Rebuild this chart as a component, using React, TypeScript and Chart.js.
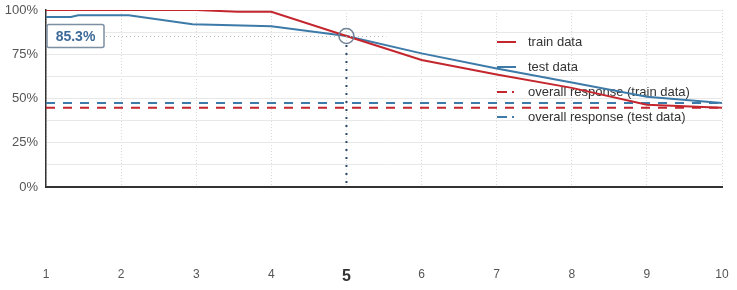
import React, { useEffect, useRef } from 'react';
import { Chart, registerables } from 'chart.js';

Chart.register(...registerables);

// ---- data ----
const X_TICKS = [1, 2, 3, 4, 5, 6, 7, 8, 9, 10];
const TRAIN_X = [1, 3, 3.55, 4, 5, 6, 7, 8, 9, 10];
const TRAIN_VALUES = [100, 100, 99, 99, 85.3, 71.8, 63.5, 56, 46.5, 44.8];
const TEST_X = [1, 1.33, 1.43, 2.1, 2.95, 4, 5, 6, 7, 8, 9, 10];
const TEST_VALUES = [96, 96, 97, 97, 92, 90.8, 85.3, 75.5, 67, 59, 51, 47.4];
const OVERALL_TRAIN = 44.8;
const OVERALL_TEST = 47.4;
const Y_TICKS = [0, 25, 50, 75, 100];
const HIGHLIGHT_X = 5;
const HIGHLIGHT_Y = 85.3;
const LEGEND_LABELS = ['train data', 'test data', 'overall response (train data)', 'overall response (test data)'];

const RED = '#c4262e';
const BLUE = '#3d7aa8';
const FONT = '"Liberation Sans", Arial, sans-serif';

const overlayPlugin = {
  id: 'overlay',
  beforeDatasetsDraw(chart: any) {
    const { ctx } = chart;
    ctx.save();
    const startX = 497;
    const startY = 42;
    const gap = 25;
    const colors = [RED, BLUE, RED, BLUE];
    LEGEND_LABELS.forEach((label, i) => {
      const y = startY + i * gap;
      ctx.strokeStyle = colors[i];
      ctx.fillStyle = colors[i];
      ctx.lineWidth = 2;
      ctx.setLineDash([]);
      ctx.beginPath();
      if (i < 2) {
        ctx.moveTo(startX, y);
        ctx.lineTo(startX + 19, y);
        ctx.stroke();
      } else {
        ctx.moveTo(startX, y);
        ctx.lineTo(startX + 10, y);
        ctx.stroke();
        ctx.fillRect(startX + 15, y - 1, 2, 2);
      }
      ctx.fillStyle = '#333';
      ctx.font = `13px ${FONT}`;
      ctx.textBaseline = 'middle';
      ctx.textAlign = 'left';
      ctx.fillText(label, 528, y);
    });
    ctx.restore();
  },
  afterDatasetsDraw(chart: any) {
    const { ctx, chartArea } = chart;
    const xs = chart.scales.x;
    const ys = chart.scales.y;
    const px = xs.getPixelForValue(HIGHLIGHT_X);
    const py = ys.getPixelForValue(HIGHLIGHT_Y);
    ctx.save();
    // vertical dotted
    ctx.strokeStyle = '#2d4a6e';
    ctx.lineWidth = 2;
    ctx.setLineDash([2, 6]);
    ctx.beginPath();
    ctx.moveTo(px, py + 9);
    ctx.lineTo(px, chartArea.bottom);
    ctx.stroke();
    // horizontal dotted
    ctx.strokeStyle = '#aab7c6';
    ctx.lineWidth = 1;
    ctx.setLineDash([1, 3]);
    ctx.beginPath();
    ctx.moveTo(chartArea.left + 60, py + 0.5);
    ctx.lineTo(px + 40, py + 0.5);
    ctx.stroke();
    ctx.setLineDash([]);
    // circle
    ctx.strokeStyle = '#6f8297';
    ctx.lineWidth = 1.5;
    ctx.beginPath();
    ctx.arc(px, py, 7.5, 0, Math.PI * 2);
    ctx.stroke();
    // label box
    const bx = chartArea.left + 1;
    const bw = 57;
    const bh = 23;
    const by = py - bh / 2;
    ctx.fillStyle = '#fff';
    ctx.strokeStyle = '#7d8fa3';
    ctx.lineWidth = 1.5;
    ctx.beginPath();
    ctx.roundRect(bx, by, bw, bh, 2);
    ctx.fill();
    ctx.stroke();
    ctx.fillStyle = '#3d6a99';
    ctx.font = `bold 14px ${FONT}`;
    ctx.textAlign = 'center';
    ctx.textBaseline = 'middle';
    ctx.fillText(HIGHLIGHT_Y.toFixed(1) + '%', bx + bw / 2, py + 1);
    ctx.restore();
  },
};

export default function App() {
  const ref = useRef<HTMLCanvasElement>(null);
  useEffect(() => {
    const chart = new Chart(ref.current as HTMLCanvasElement, {
      type: 'line',
      data: {
        datasets: [
          {
            label: 'train data',
            data: TRAIN_X.map((x, i) => ({ x, y: TRAIN_VALUES[i] })),
            borderColor: RED,
            borderWidth: 2,
            pointRadius: 0,
            tension: 0,
          },
          {
            label: 'test data',
            data: TEST_X.map((x, i) => ({ x, y: TEST_VALUES[i] })),
            borderColor: BLUE,
            borderWidth: 2,
            pointRadius: 0,
            tension: 0,
          },
          {
            label: 'overall response (train data)',
            data: [{ x: X_TICKS[0], y: OVERALL_TRAIN }, { x: X_TICKS[X_TICKS.length - 1], y: OVERALL_TRAIN }],
            borderColor: RED,
            borderWidth: 2,
            borderDash: [9, 8],
            pointRadius: 0,
          },
          {
            label: 'overall response (test data)',
            data: [{ x: X_TICKS[0], y: OVERALL_TEST }, { x: X_TICKS[X_TICKS.length - 1], y: OVERALL_TEST }],
            borderColor: BLUE,
            borderWidth: 2,
            borderDash: [9, 8],
            pointRadius: 0,
          },
        ],
      },
      options: {
        animation: false,
        responsive: false,
        devicePixelRatio: 1,
        layout: { padding: { top: 10, right: 15, left: 0, bottom: 0 } },
        plugins: { legend: { display: false }, tooltip: { enabled: false } },
        scales: {
          x: {
            type: 'linear',
            min: X_TICKS[0],
            max: X_TICKS[X_TICKS.length - 1],
            afterBuildTicks: (scale: any) => {
              scale.ticks = X_TICKS.map((v) => ({ value: v }));
            },
            afterFit: (scale: any) => {
              scale.height = 103;
              scale.paddingLeft = 0;
              scale.paddingRight = 0;
            },
            ticks: {
              padding: 80,
              color: (c: any) => (c.tick && c.tick.value === HIGHLIGHT_X ? '#333' : '#555'),
              font: (c: any) =>
                c.tick && c.tick.value === HIGHLIGHT_X
                  ? { family: FONT, size: 16, weight: 'bold' }
                  : { family: FONT, size: 12 },
              callback: (v: any) => String(v),
            },
            grid: { color: '#d8d8d8', lineWidth: 1, drawTicks: false },
            border: { display: true, color: '#333', width: 2, dash: [1, 2] },
          },
          y: {
            min: 0,
            max: 100,
            afterBuildTicks: (scale: any) => {
              const t: any[] = [];
              for (let i = 0; i < Y_TICKS.length; i++) {
                t.push({ value: Y_TICKS[i] });
                if (i < Y_TICKS.length - 1) t.push({ value: (Y_TICKS[i] + Y_TICKS[i + 1]) / 2 });
              }
              scale.ticks = t;
            },
            afterFit: (scale: any) => {
              scale.width = 46;
              scale.paddingTop = 0;
              scale.paddingBottom = 0;
            },
            ticks: {
              padding: 8,
              color: '#555',
              font: { family: FONT, size: 13 },
              callback: (v: any) => (Y_TICKS.includes(v) ? v + '%' : ''),
            },
            grid: { color: '#e8e8e8', lineWidth: 1, drawTicks: false },
            border: { display: true, color: '#333', width: 1.5 },
          },
        },
      },
      plugins: [overlayPlugin],
    });
    return () => chart.destroy();
  }, []);
  return (
    <div style={{ position: 'absolute', left: 0, top: 0, width: 737, height: 290, background: '#fff' }}>
      <canvas ref={ref} width={737} height={290} style={{ display: 'block' }} />
    </div>
  );
}
